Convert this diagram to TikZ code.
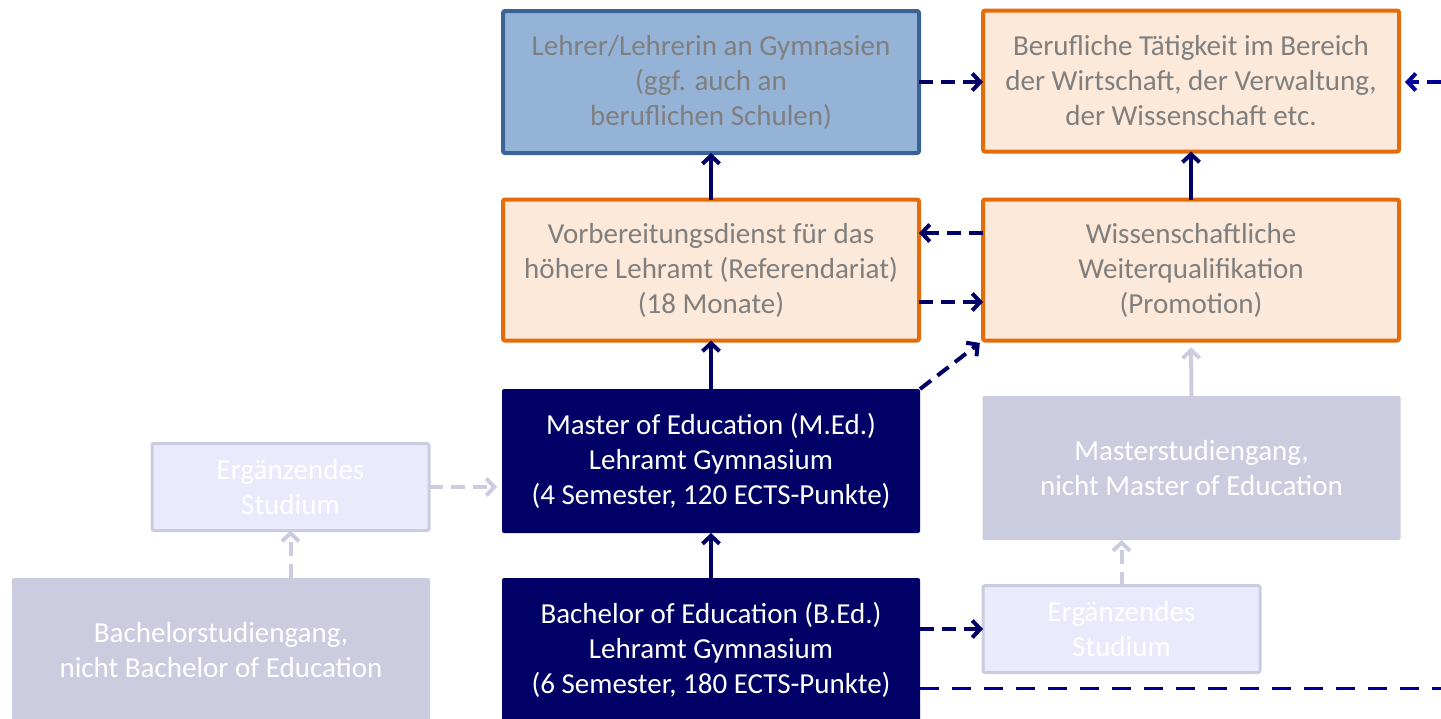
\documentclass[tikz,border=0pt]{standalone}
\usepackage{fontspec}
\setmainfont{Carlito}
\usetikzlibrary{arrows, arrows.meta, positioning, calc}
\definecolor{mynavy}{HTML}{000066}
\definecolor{myblue}{HTML}{000099}
\definecolor{mysteel}{HTML}{95B3D7}
\definecolor{mysteeldark}{HTML}{3A6496}
\definecolor{mypeach}{HTML}{FDE9D9}
\definecolor{myorange}{HTML}{E46C0A}
\definecolor{mylilac}{HTML}{CCCCE0}
\definecolor{mypale}{HTML}{E9EAFC}
\definecolor{mygreytext}{HTML}{7F7F7F}

\begin{document}
\begin{tikzpicture}[x=0.5pt, y=-0.5pt, >={Straight Barb[length=4pt, width=8.5pt]},
        every node/.style={align=center, inner sep=0pt, outer sep=0pt, rounded corners=1pt,
            font=\fontsize{14.5}{17.5}\selectfont},
        jobbox/.style={draw=myorange, fill=mypeach, line width=2pt, text=mygreytext,
            minimum width=208pt, minimum height=70.5pt},
        teachbox/.style={draw=mysteeldark, fill=mysteel, line width=2pt, text=mygreytext,
            minimum width=208pt, minimum height=71pt},
        edbox/.style={fill=mynavy, text=white, minimum width=209pt, minimum height=72pt},
        otherbox/.style={fill=mylilac, text=white, minimum width=209pt, minimum height=72pt},
        extrabox/.style={draw=mylilac, fill=mypale, line width=1.5pt, text=white,
            minimum width=138.5pt, minimum height=43.5pt},
        solidarr/.style={->, draw=mynavy, line width=2pt},
        dasharr/.style={->, draw=mynavy, line width=2pt, dash pattern=on 7pt off 4pt},
        palesolid/.style={->, draw=mylilac, line width=2pt},
        paledash/.style={->, draw=mylilac, line width=2pt, dash pattern=on 7pt off 4pt}]
        \useasboundingbox (0,0) rectangle (1441,718);
        % top row
        \node[teachbox] (lehrer) at (711, 82) {Lehrer/Lehrerin an Gymnasien\\(ggf. auch an\\beruflichen Schulen)};
        \node[jobbox] (beruf) at (1191, 81) {Berufliche Tätigkeit im Bereich\\der Wirtschaft, der Verwaltung,\\der Wissenschaft etc.};
        % second row
        \node[jobbox] (vorb) at (711, 270) {Vorbereitungsdienst für das\\höhere Lehramt (Referendariat)\\(18 Monate)};
        \node[jobbox] (wiss) at (1191, 270) {Wissenschaftliche\\Weiterqualifikation\\(Promotion)};
        % studies
        \node[edbox] (med) at (711, 461) {Master of Education (M.Ed.)\\Lehramt Gymnasium\\(4 Semester, 120 ECTS-Punkte)};
        \node[edbox] (bed) at (711, 650) {Bachelor of Education (B.Ed.)\\Lehramt Gymnasium\\(6 Semester, 180 ECTS-Punkte)};
        \node[otherbox] (bst) at (221, 650) {Bachelorstudiengang,\\nicht Bachelor of Education};
        \node[otherbox] (mst) at (1191.5, 468) {Masterstudiengang,\\nicht Master of Education};
        \node[extrabox] (ergL) at (290.5, 487) {Ergänzendes\\Studium};
        \node[extrabox] (ergR) at (1121.5, 629) {Ergänzendes\\Studium};
        \coordinate (R1) at (1441, 82);
        \coordinate (R2) at (1441, 688);
        % solid arrows
        \draw[solidarr] (vorb.north) -- (lehrer.south);
        \draw[solidarr] (med.north) -- (vorb.south);
        \draw[solidarr] (bed.north) -- (med.south);
        \draw[solidarr] (wiss.north) -- (beruf.south);
        \draw[palesolid, shorten >=3.5pt] (mst.north) -- (wiss.south);
        % dashed arrows
        \draw[dasharr] (lehrer.east) -- (lehrer.east -| beruf.west);
        \draw[dasharr] ($(wiss.west)+(0,-37)$) -- ($(vorb.east)+(0,-37)$);
        \draw[dasharr] ($(vorb.east)+(0,32)$) -- ($(wiss.west)+(0,32)$);
        \draw[dasharr, shorten >=2pt] (med.north east) -- (wiss.south west);
        \draw[dasharr] (bed.east |- ergR.west) -- (ergR.west);
        \draw[myblue, line width=1.5pt, dash pattern=on 9.5pt off 6.5pt] (bed.east |- R2) -- (R2);
        \draw[->, myblue, line width=2pt, dash pattern=on 7pt off 4pt, shorten >=3pt] (R1) -- (beruf.east |- R1);
        \draw[paledash, shorten >=2.5pt] (ergL.east) -- (med.west |- ergL.east);
        \draw[paledash] (ergL.south |- bst.north) -- (ergL.south);
        \draw[paledash] (ergR.north) -- (ergR.north |- mst.south);
    \end{tikzpicture}
\end{document}
